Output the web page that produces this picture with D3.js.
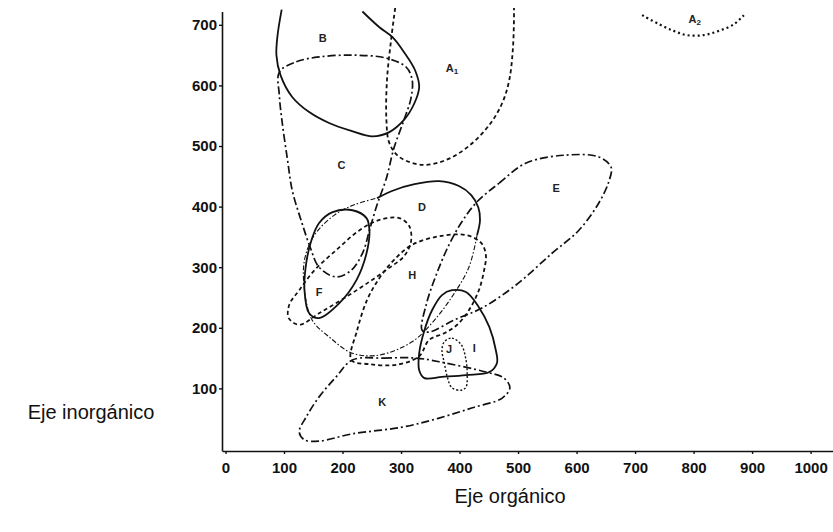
<!DOCTYPE html>
<html>
<head>
<meta charset="utf-8">
<script src="https://cdn.jsdelivr.net/npm/d3@7"></script>
<style>
  body { margin: 0; background: #fff; }
  .tick text { font: bold 15px "Liberation Sans", Arial, sans-serif; fill: #111; }
  .title { font: 20px "Liberation Sans", Arial, sans-serif; fill: #111; }
  .lbl { font: bold 11px "Liberation Sans", Arial, sans-serif; fill: #222; }
</style>
</head>
<body>
<svg id="chart" width="833" height="532"></svg>
<script>
// [organic, inorganic]
const regionB = [[96,725],[89,683],[87,650],[94,617],[114,581],[143,556],[177,538],[215,525],[251,516],[280,523],[305,543],[323,571],[331,597],[324,625],[305,655],[285,680],[263,696],[234,722]];
const regionA1 = [[290,728],[283,675],[276,609],[275,543],[280,505],[297,482],[336,469],[377,477],[416,500],[451,535],[473,571],[485,609],[491,658],[493,708],[493,733]];
const regionA2 = [[712,716],[741,701],[766,690],[788,683],[817,683],[843,690],[869,701],[886,716]];
const regionC = [[92,622],[121,639],[160,647],[217,650],[275,645],[309,630],[319,609],[317,579],[305,543],[288,497],[275,447],[259,403],[246,361],[235,325],[215,295],[189,284],[160,300],[145,332],[130,375],[114,427],[106,477],[97,538],[92,584]];
const regionDTop = [[259,414],[288,427],[323,437],[365,442],[399,434],[420,419],[432,399],[435,378],[430,353]];
const regionDRest = [[430,353],[416,300],[387,251],[353,208],[319,177],[263,155],[217,158],[177,185],[148,213],[135,262],[135,312],[152,353],[186,386],[220,403],[259,414]];
const regionE = [[430,408],[468,439],[514,472],[582,485],[638,482],[659,465],[655,441],[638,406],[604,361],[558,323],[497,271],[439,233],[391,213],[348,193],[336,196],[343,238],[360,287],[382,337],[404,375]];
const regionF = [[160,373],[183,391],[217,394],[241,381],[246,361],[241,323],[224,279],[195,241],[160,216],[143,224],[135,262],[138,307],[147,345]];
const regionG = [[109,238],[126,262],[152,295],[189,328],[229,361],[263,378],[297,381],[314,368],[317,342],[305,318],[280,299],[246,276],[203,249],[160,224],[126,205],[108,216]];
const regionH = [[215,147],[225,196],[242,246],[263,282],[288,312],[319,337],[365,351],[411,353],[437,340],[445,320],[442,295],[433,262],[416,229],[396,205],[374,191],[348,180],[331,153],[292,139],[246,140]];
const regionI = [[387,262],[411,259],[433,234],[451,201],[462,163],[464,142],[451,127],[411,122],[370,119],[340,117],[331,130],[331,158],[340,196],[353,229],[370,254]];
const regionJ = [[374,177],[387,183],[403,172],[411,147],[413,125],[411,102],[403,97],[387,101],[379,119],[374,142],[370,163]];
const regionK = [[217,147],[271,150],[326,150],[365,144],[445,127],[476,117],[486,101],[473,84],[422,68],[365,51],[302,36],[217,25],[160,13],[135,15],[126,28],[138,53],[160,86],[189,119]];

const labels = [["B","",166,678],["A","1",387,629],["A","2",802,710],["C","",198,469],["D","",336,399],["E","",565,431],
                ["F","",160,259],["H","",319,287],["I","",425,167],["J","",382,164],["K","",268,78]];

const xTicks = [0,100,200,300,400,500,600,700,800,900,1000];
const yTicks = [100,200,300,400,500,600,700];

const svg = d3.select('#chart');
const x = d3.scaleLinear().domain([-6, 1040]).range([222, 834]);
const y = d3.scaleLinear().domain([-3, 722]).range([450.8, 11.5]);

svg.append('clipPath').attr('id', 'plot')
  .append('rect').attr('x', 222).attr('y', 8).attr('width', 612).attr('height', 443);

const closed = d3.line().x(d => x(d[0])).y(d => y(d[1])).curve(d3.curveCatmullRomClosed.alpha(0.5));
const open = d3.line().x(d => x(d[0])).y(d => y(d[1])).curve(d3.curveCatmullRom.alpha(0.5));

const shapes = [
  {pts: regionB, gen: open, dash: null, w: 1.8},
  {pts: regionA1, gen: open, dash: '4,3', w: 1.8},
  {pts: regionA2, gen: open, dash: '2,3', w: 2.2},
  {pts: regionC, gen: closed, dash: '8,3,2,3', w: 1.7},
  {pts: regionDTop, gen: open, dash: null, w: 1.8},
  {pts: regionDRest, gen: open, dash: '5,2,1.5,2', w: 1.1},
  {pts: regionE, gen: closed, dash: '8,3,2,3', w: 1.7},
  {pts: regionF, gen: closed, dash: null, w: 1.8},
  {pts: regionG, gen: closed, dash: '4,3', w: 1.7},
  {pts: regionH, gen: closed, dash: '4,3', w: 1.8},
  {pts: regionI, gen: closed, dash: null, w: 1.8},
  {pts: regionJ, gen: closed, dash: '2,2', w: 1.4},
  {pts: regionK, gen: closed, dash: '8,3,2,3', w: 1.7}
];

svg.append('g').attr('clip-path', 'url(#plot)')
  .selectAll('path')
  .data(shapes)
  .join('path')
  .attr('d', d => d.gen(d.pts))
  .attr('fill', 'none')
  .attr('stroke', '#111')
  .attr('stroke-width', d => d.w)
  .attr('stroke-dasharray', d => d.dash);

// region letters
const lt = svg.append('g').selectAll('text')
  .data(labels)
  .join('text')
  .attr('class', 'lbl')
  .attr('x', d => x(d[2]))
  .attr('y', d => y(d[3]))
  .attr('text-anchor', 'middle')
  .attr('dy', '0.35em');
lt.append('tspan').text(d => d[0]);
lt.append('tspan').attr('dy', '0.3em').attr('font-size', '8px').text(d => d[1]);

// axes
const yAxis = svg.append('g')
  .attr('transform', 'translate(222,0)')
  .call(d3.axisLeft(y).tickValues(yTicks).tickFormat(d3.format('d')).tickSize(3).tickSizeOuter(0).tickPadding(2));
const xAxis = svg.append('g')
  .attr('transform', 'translate(0,451)')
  .call(d3.axisBottom(x).tickValues(xTicks).tickFormat(d3.format('d')).tickSize(3).tickSizeOuter(0).tickPadding(8));
[xAxis, yAxis].forEach(a => {
  a.select('.domain').attr('stroke', '#111').attr('stroke-width', 1.6);
  a.selectAll('.tick line').attr('stroke', '#111').attr('stroke-width', 1.4);
});

svg.append('text').attr('class', 'title').attr('x', 91).attr('y', 419)
  .attr('text-anchor', 'middle').text('Eje inorgánico');
svg.append('text').attr('class', 'title').attr('x', 510).attr('y', 503)
  .attr('text-anchor', 'middle').text('Eje orgánico');
</script>
</body>
</html>
